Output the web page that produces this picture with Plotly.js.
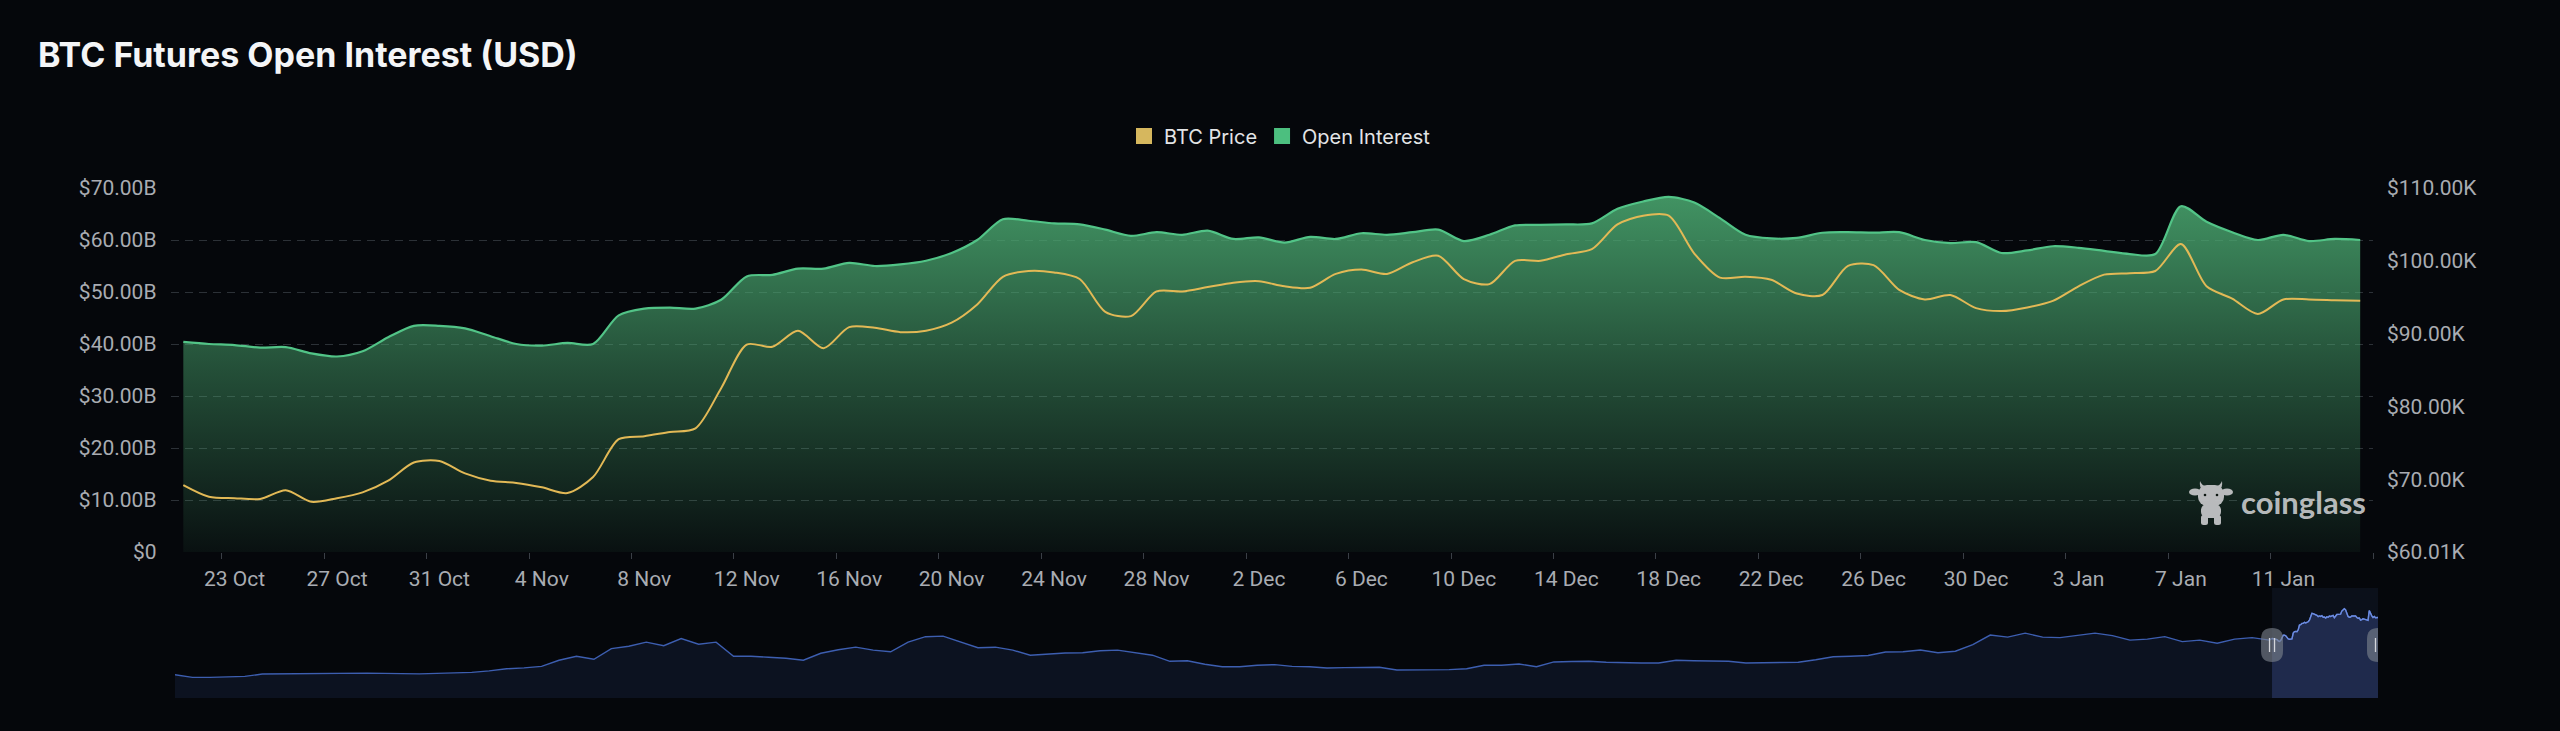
<!DOCTYPE html>
<html>
<head>
<meta charset="utf-8">
<script src="https://cdn.plot.ly/plotly-3.0.1.min.js"></script>
<style>
  html, body { margin: 0; padding: 0; background: #05070b; }
  #chart { width: 2560px; height: 731px; }
</style>
</head>
<body>
<div id="chart"></div>
<script>
// ---------------- DATA ----------------
const startDate = '2024-10-21';   // first daily category
const oiValues = [ // Open Interest, $B
  40.4, 40.0, 39.8, 39.3, 39.4, 38.2, 37.6, 38.6, 41.3, 43.5,
  43.5, 43.0, 41.5, 40.0, 39.7, 40.2, 40.0, 45.5, 46.8, 47.0,
  46.8, 48.5, 53.0, 53.3, 54.5, 54.5, 55.6, 55.0, 55.3, 56.0,
  57.5, 60.0, 64.0, 63.7, 63.2, 63.0, 62.0, 60.8, 61.5, 61.0,
  61.8, 60.2, 60.5, 59.5, 60.6, 60.2, 61.3, 61.0, 61.5, 62.0,
  59.8, 61.0, 62.8, 62.9, 63.0, 63.2, 66.0, 67.4, 68.3, 67.2,
  64.2, 61.0, 60.3, 60.4, 61.4, 61.5, 61.4, 61.5, 60.0, 59.4,
  59.6, 57.5, 58.0, 58.8, 58.5, 57.9, 57.3, 57.3, 66.5, 63.5,
  61.5, 60.0, 61.0, 59.8, 60.2, 60.0
];
const priceValues = [ // BTC price, $K
  69.2, 67.6, 67.4, 67.3, 68.5, 66.9, 67.4, 68.2, 69.8, 72.3,
  72.5, 70.8, 69.8, 69.5, 68.9, 68.1, 70.3, 75.5, 75.9, 76.5,
  77.0, 82.5, 88.5, 88.2, 90.4, 88.0, 90.9, 90.8, 90.2, 90.4,
  91.5, 94.0, 97.8, 98.6, 98.4, 97.5, 93.0, 92.4, 95.8, 95.8,
  96.4, 97.0, 97.2, 96.5, 96.3, 98.2, 98.8, 98.2, 99.8, 100.7,
  97.5, 96.8, 100.0, 100.0, 100.9, 101.6, 105.0, 106.2, 106.2, 101.0,
  97.7, 97.8, 97.4, 95.5, 95.3, 99.3, 99.4, 96.0, 94.7, 95.3,
  93.5, 93.1, 93.6, 94.5, 96.5, 98.1, 98.3, 98.6, 102.3, 96.5,
  94.8, 92.7, 94.7, 94.7, 94.6, 94.5
];
const tickLabelDates = [
  '2024-10-23','2024-10-27','2024-10-31','2024-11-04','2024-11-08','2024-11-12',
  '2024-11-16','2024-11-20','2024-11-24','2024-11-28','2024-12-02','2024-12-06',
  '2024-12-10','2024-12-14','2024-12-18','2024-12-22','2024-12-26','2024-12-30',
  '2025-01-03','2025-01-07','2025-01-11'
];
const leftTickVals  = [0, 10, 20, 30, 40, 50, 60, 70];
const rightTickVals = [60.01, 70, 80, 90, 100, 110];

// navigator (full history of open interest, sampled every 14 days)
const navStartDate = '2020-03-14';
const navStepDays = 14;
const navHistory = [
  6.6, 4.1, 4.1, 4.6, 5.0, 7.2, 7.4, 7.6, 7.8, 7.8,
  8.0, 8.1, 7.8, 7.4, 7.4, 7.8, 8.1, 8.8, 10.2, 12.1,
  13.0, 14.4, 20.1, 23.8, 21.0, 30.9, 33.2, 37.0, 33.7, 40.3,
  35.1, 37.0, 23.8, 23.8, 22.9, 21.9, 20.1, 26.6, 29.9, 32.3,
  29.5, 28.0, 37.0, 42.1, 42.6, 37.5, 31.8, 32.3, 29.5, 24.8,
  26.2, 26.9, 27.1, 29.0, 29.5, 27.1, 24.8, 19.1, 19.6, 16.3,
  14.0, 14.0, 15.4, 16.0, 14.4, 14.0, 12.8, 13.2, 13.5, 13.5,
  11.0, 11.1, 11.1, 11.3, 12.1, 15.4, 15.4, 16.6, 14.0, 18.5,
  18.9, 19.1, 18.2, 17.5, 17.5, 17.5, 20.1, 19.6, 19.1, 19.1,
  17.5, 17.7, 17.9, 18.2, 20.5, 23.4, 23.8, 24.5, 27.8, 28.0,
  29.6, 27.1, 28.5, 34.6, 43.6, 41.7, 45.4, 41.7, 41.2, 43.1,
  45.4, 43.1, 38.9, 39.8, 42.1, 37.5, 38.9, 36.0, 39.8, 41.2, 38.9
];

// ---------------- helpers ----------------
function shiftDate(s, hours) {
  const d = new Date(s.length === 10 ? s + 'T00:00:00Z' : s.replace(' ', 'T') + ':00Z');
  d.setTime(d.getTime() + hours * 3600 * 1000);
  return d.toISOString().slice(0, 16).replace('T', ' ');
}
const MONTHS = ['Jan','Feb','Mar','Apr','May','Jun','Jul','Aug','Sep','Oct','Nov','Dec'];
function labelOf(s) {
  const d = new Date(s + 'T00:00:00Z');
  return d.getUTCDate() + ' ' + MONTHS[d.getUTCMonth()];
}

const dates = oiValues.map((_, i) => shiftDate(startDate, 24 * i));
const navHistDates = navHistory.map((_, i) => shiftDate(navStartDate, 24 * navStepDays * i));
const navDates = navHistDates.concat(dates);
const navValues = navHistory.concat(oiValues);
const navMin = Math.min(...navValues), navMax = Math.max(...navValues);
const navPad = (navMax - navMin) * 0.3;
const navRange = [navMin - navPad, navMax + navPad];

const xRange = [shiftDate(dates[0], -12), shiftDate(dates[dates.length - 1], 12)];
const tickVals = tickLabelDates.map(d => shiftDate(d, 0));
const tickText = tickLabelDates.map(labelOf);
const leftText = leftTickVals.map(v => v === 0 ? '$0' : '$' + v.toFixed(2) + 'B');
const rightText = rightTickVals.map(v => '$' + v.toFixed(2) + 'K');

// ---------------- layout geometry ----------------
const W = 2560, H = 731;
const px = v => v / W, py = v => (H - v) / H;

const GREEN = '#52c487', GOLD = '#e2b956';

const traces = [
  { // open interest area
    x: dates, y: oiValues, type: 'scatter', mode: 'lines', name: 'Open Interest',
    xaxis: 'x', yaxis: 'y', showlegend: false, hoverinfo: 'skip',
    line: { color: GREEN, width: 2.2, shape: 'spline', smoothing: 0.8 },
    fill: 'tozeroy',
    fillgradient: { type: 'vertical', start: leftTickVals[0], stop: leftTickVals[leftTickVals.length - 1],
      colorscale: [[0, 'rgba(75,170,113,0.06)'], [0.5, 'rgba(75,170,113,0.44)'], [1, 'rgba(75,170,113,0.88)']] }
  },
  { // BTC price
    x: dates, y: priceValues, type: 'scatter', mode: 'lines', name: 'BTC Price',
    xaxis: 'x', yaxis: 'y2', showlegend: false, hoverinfo: 'skip',
    line: { color: GOLD, width: 2, shape: 'spline', smoothing: 0.8 }
  },
  // legend entries (square swatches)
  { x: [null], y: [null], type: 'scatter', mode: 'markers', name: 'BTC Price', xaxis: 'x', yaxis: 'y',
    marker: { symbol: 'square', size: 17, color: '#d6b75e' }, hoverinfo: 'skip' },
  { x: [null], y: [null], type: 'scatter', mode: 'markers', name: 'Open Interest', xaxis: 'x', yaxis: 'y',
    marker: { symbol: 'square', size: 17, color: '#4cbf7f' }, hoverinfo: 'skip' },
  // navigator: baseline + full history
  { x: navDates, y: navDates.map(() => navRange[0]), type: 'scatter', mode: 'lines', xaxis: 'x2', yaxis: 'y3',
    line: { width: 0, color: 'rgba(0,0,0,0)' }, showlegend: false, hoverinfo: 'skip' },
  { x: navDates, y: navValues, type: 'scatter', mode: 'lines', xaxis: 'x2', yaxis: 'y3',
    line: { width: 1.4, color: '#3d5eb0' }, fill: 'tonexty', fillcolor: '#0c1220',
    showlegend: false, hoverinfo: 'skip' },
  // navigator: selected window
  { x: dates, y: dates.map(() => navRange[0]), type: 'scatter', mode: 'lines', xaxis: 'x2', yaxis: 'y3',
    line: { width: 0, color: 'rgba(0,0,0,0)' }, showlegend: false, hoverinfo: 'skip' },
  { x: dates, y: oiValues, type: 'scatter', mode: 'lines', xaxis: 'x2', yaxis: 'y3',
    line: { width: 1.4, color: '#6d8ce0' }, fill: 'tonexty', fillcolor: 'rgba(70,90,160,0.35)',
    showlegend: false, hoverinfo: 'skip' }
];

const axisFont = { family: 'Roboto, "DejaVu Sans", sans-serif', size: 21, color: '#a9acb2' };

function handle(xDate) {
  const c = 'rgba(125,130,140,0.62)';
  return [
    { type: 'path', xref: 'x2', yref: 'paper', xsizemode: 'pixel', ysizemode: 'pixel',
      xanchor: xDate, yanchor: py(645), layer: 'above',
      path: 'M-11,-6 L-11,6 Q-11,17 0,17 Q11,17 11,6 L11,-6 Q11,-17 0,-17 Q-11,-17 -11,-6 Z',
      fillcolor: c, line: { width: 0 } },
    { type: 'path', xref: 'x2', yref: 'paper', xsizemode: 'pixel', ysizemode: 'pixel',
      xanchor: xDate, yanchor: py(645), layer: 'above',
      path: 'M-2.5,-7 L-2.5,7 M2.5,-7 L2.5,7', line: { color: '#d4d6db', width: 1.3 } }
  ];
}

const cowSvg = "<svg xmlns='http://www.w3.org/2000/svg' viewBox='0 0 44 48'><g fill='#c2c3c5'>" +
  "<ellipse cx='6' cy='13' rx='6' ry='3.6'/><ellipse cx='38' cy='13' rx='6' ry='3.6'/>" +
  "<path d='M11 2 Q13 7 17 7 L27 7 Q31 7 33 2 Q34 9 30 10 L14 10 Q10 9 11 2 Z'/>" +
  "<rect x='9' y='6' width='26' height='21' rx='9'/>" +
  "<rect x='12' y='25' width='20' height='14' rx='6'/>" +
  "<rect x='12' y='36' width='7' height='10' rx='2.5'/><rect x='25' y='36' width='7' height='10' rx='2.5'/>" +
  "</g><circle cx='16' cy='16' r='1.3' fill='#0d1611'/><circle cx='28' cy='16' r='1.3' fill='#0d1611'/></svg>";

const layout = {
  width: W, height: H,
  margin: { l: 0, r: 0, t: 0, b: 0 },
  paper_bgcolor: '#05070b', plot_bgcolor: '#05070b',
  font: { family: 'Inter, Roboto, sans-serif', color: '#e6e6e6' },
  title: { text: 'BTC Futures Open Interest (USD)', xref: 'container', yref: 'container',
    x: px(38), xanchor: 'left', y: py(55), yanchor: 'middle',
    font: { family: 'Inter, Roboto, sans-serif', size: 34, color: '#f4f5f7', weight: 700 } },
  showlegend: true,
  legend: { orientation: 'h', traceorder: 'normal', x: 0.5, xanchor: 'center', y: py(136), yanchor: 'middle',
    font: { family: 'Inter, Roboto, sans-serif', size: 20, color: '#e3e4e6' },
    bgcolor: 'rgba(0,0,0,0)', itemclick: false, itemdoubleclick: false },
  xaxis: {
    domain: [px(170.5), px(2373)], anchor: 'y', type: 'date', range: xRange,
    tickvals: tickVals, ticktext: tickText, ticks: '', ticklabelstandoff: 12,
    minor: { tick0: shiftDate(tickLabelDates[0], -12), dtick: 4 * 86400000, ticks: 'outside',
      ticklen: 6, tickwidth: 1, tickcolor: '#3a3f46', showgrid: false },
    showgrid: false, zeroline: false, showline: false, tickfont: axisFont, fixedrange: true
  },
  yaxis: {
    domain: [py(552), py(188)], anchor: 'x', range: [leftTickVals[0], leftTickVals[leftTickVals.length - 1]],
    tickvals: leftTickVals, ticktext: leftText, showgrid: true, gridcolor: '#2c3137', griddash: '8px,6px',
    gridwidth: 1, zeroline: false, showline: false, ticks: '', tickfont: axisFont,
    ticklabelstandoff: 13, fixedrange: true
  },
  yaxis2: {
    overlaying: 'y', side: 'right', anchor: 'x',
    range: [rightTickVals[0], rightTickVals[rightTickVals.length - 1]],
    tickvals: rightTickVals, ticktext: rightText, showgrid: false, zeroline: false, showline: false,
    ticks: '', tickfont: axisFont, ticklabelstandoff: 13, fixedrange: true
  },
  xaxis2: {
    domain: [px(175), px(2378)], anchor: 'y3', type: 'date',
    range: [navDates[0], navDates[navDates.length - 1]],
    showgrid: false, zeroline: false, showline: false, showticklabels: false, ticks: '', fixedrange: true
  },
  yaxis3: {
    domain: [py(698), py(588)], anchor: 'x2', range: navRange,
    showgrid: false, zeroline: false, showline: false, showticklabels: false, ticks: '', fixedrange: true
  },
  shapes: [
    { type: 'rect', xref: 'x2', yref: 'y3 domain', x0: dates[0], x1: dates[dates.length - 1], y0: 0, y1: 1,
      fillcolor: 'rgba(70,95,170,0.10)', line: { width: 0 }, layer: 'below' },
    ...handle(dates[0]), ...handle(dates[dates.length - 1])
  ],
  annotations: [
    { text: 'coinglass', xref: 'paper', yref: 'paper', x: px(2239), xanchor: 'left', y: py(502), yanchor: 'middle',
      showarrow: false, font: { family: 'Lato, "Open Sans", sans-serif', size: 31, color: 'rgba(205,206,208,0.9)', weight: 700 } }
  ],
  images: [
    { source: 'data:image/svg+xml;charset=utf-8,' + encodeURIComponent(cowSvg),
      xref: 'paper', yref: 'paper', x: px(2189), y: py(479), sizex: px(44), sizey: 48 / H,
      xanchor: 'left', yanchor: 'top', sizing: 'stretch', layer: 'above', opacity: 0.95 }
  ]
};

Plotly.newPlot('chart', traces, layout, { displayModeBar: false, staticPlot: true });
</script>
</body>
</html>
